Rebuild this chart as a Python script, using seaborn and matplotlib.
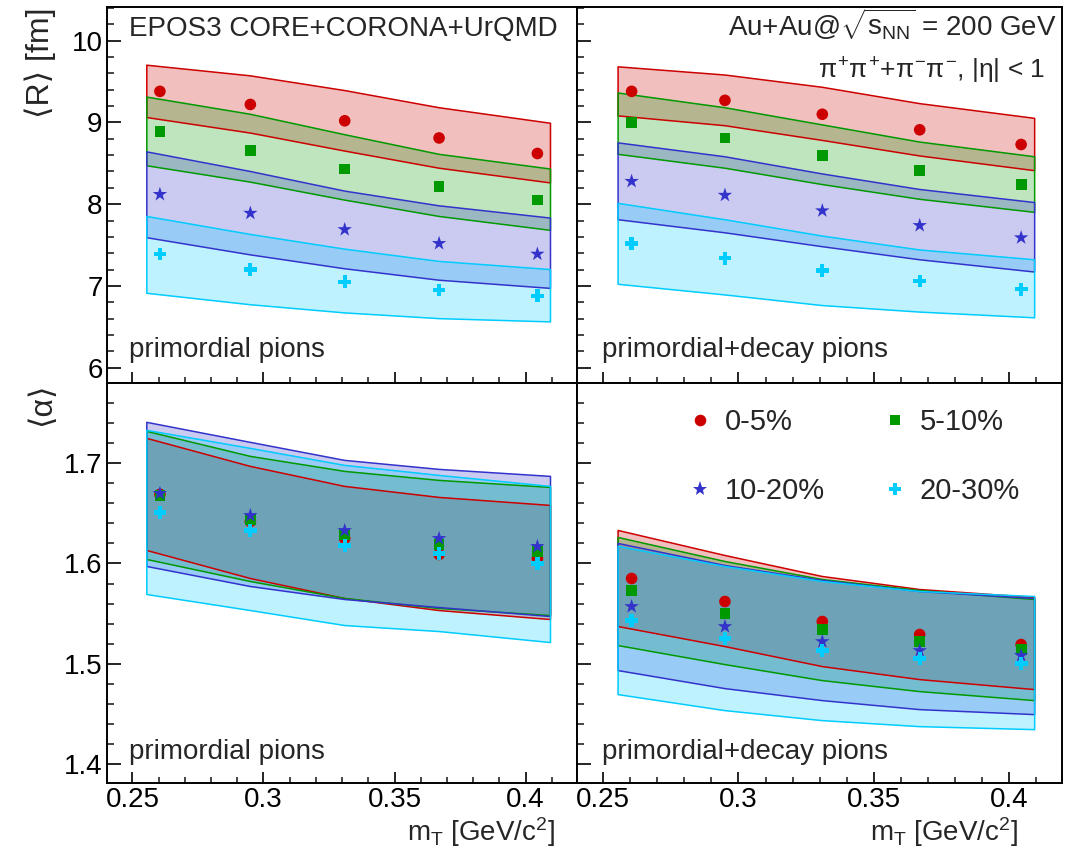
import numpy as np
import pandas as pd
import matplotlib
matplotlib.use("Agg")
import matplotlib.pyplot as plt
import seaborn as sns
from matplotlib.ticker import MultipleLocator, FixedLocator, FixedFormatter
from matplotlib.lines import Line2D

# ---------------- data ----------------
centralities = ["0-5%", "5-10%", "10-20%", "20-30%"]
mt_points = [0.2605, 0.295, 0.331, 0.367, 0.4045]
mt_band = [0.2555, 0.295, 0.331, 0.367, 0.4095]

# <R> primordial pions (markers)
R_prim_0_5 = [9.38, 9.22, 9.02, 8.81, 8.62]
R_prim_5_10 = [8.89, 8.66, 8.43, 8.22, 8.05]
R_prim_10_20 = [8.12, 7.89, 7.69, 7.52, 7.39]
R_prim_20_30 = [7.39, 7.20, 7.05, 6.95, 6.88]
# <R> primordial bands (hi, lo)
R_prim_band_0_5 = ([9.70, 9.57, 9.39, 9.18, 8.99], [9.06, 8.87, 8.65, 8.44, 8.26])
R_prim_band_5_10 = ([9.31, 9.10, 8.85, 8.61, 8.43], [8.47, 8.27, 8.05, 7.85, 7.68])
R_prim_band_10_20 = ([8.64, 8.40, 8.16, 7.98, 7.83], [7.59, 7.38, 7.21, 7.07, 6.97])
R_prim_band_20_30 = ([7.85, 7.63, 7.45, 7.30, 7.20], [6.91, 6.77, 6.67, 6.60, 6.56])

# <R> primordial+decay pions
R_all_0_5 = [9.38, 9.27, 9.10, 8.91, 8.73]
R_all_5_10 = [9.00, 8.81, 8.60, 8.41, 8.24]
R_all_10_20 = [8.28, 8.11, 7.92, 7.74, 7.59]
R_all_20_30 = [7.52, 7.34, 7.19, 7.06, 6.96]
R_all_band_0_5 = ([9.68, 9.58, 9.43, 9.23, 9.05], [9.08, 8.96, 8.78, 8.59, 8.41])
R_all_band_5_10 = ([9.36, 9.18, 8.97, 8.76, 8.58], [8.61, 8.44, 8.24, 8.06, 7.90])
R_all_band_10_20 = ([8.75, 8.58, 8.37, 8.18, 8.02], [7.81, 7.65, 7.48, 7.32, 7.17])
R_all_band_20_30 = ([8.01, 7.81, 7.61, 7.44, 7.32], [7.02, 6.89, 6.76, 6.68, 6.61])

# <alpha> primordial pions
A_prim_0_5 = [1.669, 1.642, 1.625, 1.609, 1.605]
A_prim_5_10 = [1.668, 1.644, 1.629, 1.619, 1.612]
A_prim_10_20 = [1.670, 1.648, 1.633, 1.625, 1.617]
A_prim_20_30 = [1.651, 1.633, 1.618, 1.610, 1.600]
A_prim_band_0_5 = ([1.725, 1.697, 1.677, 1.666, 1.658], [1.613, 1.585, 1.565, 1.553, 1.544])
A_prim_band_5_10 = ([1.732, 1.707, 1.692, 1.683, 1.676], [1.604, 1.582, 1.565, 1.555, 1.548])
A_prim_band_10_20 = ([1.741, 1.721, 1.703, 1.694, 1.687], [1.597, 1.577, 1.564, 1.556, 1.547])
A_prim_band_20_30 = ([1.733, 1.715, 1.698, 1.688, 1.677], [1.569, 1.553, 1.538, 1.532, 1.521])

# <alpha> primordial+decay pions
A_all_0_5 = [1.585, 1.562, 1.542, 1.529, 1.519]
A_all_5_10 = [1.573, 1.550, 1.534, 1.522, 1.514]
A_all_10_20 = [1.557, 1.537, 1.522, 1.513, 1.508]
A_all_20_30 = [1.543, 1.525, 1.513, 1.505, 1.500]
A_all_band_0_5 = ([1.633, 1.608, 1.587, 1.574, 1.566], [1.537, 1.517, 1.497, 1.484, 1.474])
A_all_band_5_10 = ([1.626, 1.602, 1.584, 1.573, 1.564], [1.518, 1.499, 1.483, 1.472, 1.463])
A_all_band_10_20 = ([1.620, 1.598, 1.583, 1.572, 1.565], [1.493, 1.475, 1.463, 1.454, 1.449])
A_all_band_20_30 = ([1.617, 1.597, 1.582, 1.572, 1.567], [1.469, 1.453, 1.443, 1.437, 1.434])

x_ticks = [0.25, 0.30, 0.35, 0.40]
x_ticklabels = ["0.25", "0.3", "0.35", "0.4"]
R_ticks = [6, 7, 8, 9, 10]
R_ticklabels = ["6", "7", "8", "9", "10"]
A_ticks = [1.4, 1.5, 1.6, 1.7]
A_ticklabels = ["1.4", "1.5", "1.6", "1.7"]

# ---------------- style ----------------
sns.set_theme(style="white")
plt.rcParams["font.family"] = ["Liberation Sans", "DejaVu Sans"]
plt.rcParams["mathtext.fontset"] = "custom"
plt.rcParams["mathtext.rm"] = "Liberation Sans"
plt.rcParams["mathtext.it"] = "Liberation Sans"
plt.rcParams["mathtext.bf"] = "Liberation Sans:bold"
plt.rcParams["mathtext.sf"] = "Liberation Sans"

colors = {"0-5%": "#cc0000", "5-10%": "#009900", "10-20%": "#3333cc", "20-30%": "#00ccff"}
markers = {"0-5%": "o", "5-10%": "s", "10-20%": "*", "20-30%": "P"}
sizes = {"0-5%": 70, "5-10%": 60, "10-20%": 120, "20-30%": 85}

W, H = 1066, 852
fig = plt.figure(figsize=(W / 100, H / 100), dpi=100)

xl, xm, xr = 106.7, 576.7, 1061.7
yt, ym, yb = 7.0, 383.3, 783.3


def rect(x0, x1, y0, y1):
    return [x0 / W, 1 - y1 / H, (x1 - x0) / W, (y1 - y0) / H]


ax_tl = fig.add_axes(rect(xl, xm, yt, ym))
ax_tr = fig.add_axes(rect(xm, xr, yt, ym))
ax_bl = fig.add_axes(rect(xl, xm, ym, yb))
ax_br = fig.add_axes(rect(xm, xr, ym, yb))

panels = [
    (ax_tl, [R_prim_0_5, R_prim_5_10, R_prim_10_20, R_prim_20_30],
     [R_prim_band_0_5, R_prim_band_5_10, R_prim_band_10_20, R_prim_band_20_30]),
    (ax_tr, [R_all_0_5, R_all_5_10, R_all_10_20, R_all_20_30],
     [R_all_band_0_5, R_all_band_5_10, R_all_band_10_20, R_all_band_20_30]),
    (ax_bl, [A_prim_0_5, A_prim_5_10, A_prim_10_20, A_prim_20_30],
     [A_prim_band_0_5, A_prim_band_5_10, A_prim_band_10_20, A_prim_band_20_30]),
    (ax_br, [A_all_0_5, A_all_5_10, A_all_10_20, A_all_20_30],
     [A_all_band_0_5, A_all_band_5_10, A_all_band_10_20, A_all_band_20_30]),
]

for ax, vals, bands in panels:
    for cent, (hi, lo) in zip(centralities, bands):
        ax.fill_between(mt_band, lo, hi, facecolor=matplotlib.colors.to_rgba(colors[cent], 0.25),
                        edgecolor="none", linewidth=0, zorder=2)
    for cent, (hi, lo) in zip(centralities, bands):
        ax.fill_between(mt_band, lo, hi, facecolor="none",
                        edgecolor=colors[cent], linewidth=1.1, zorder=3)
    rows = []
    for cent, v in zip(centralities, vals):
        for x, y in zip(mt_points, v):
            rows.append({"mT": x, "val": y, "cent": cent})
    df = pd.DataFrame(rows)
    sns.scatterplot(data=df, x="mT", y="val", hue="cent", style="cent", size="cent",
                    palette=colors, markers=markers, sizes=sizes, hue_order=centralities,
                    style_order=centralities, size_order=centralities,
                    linewidth=0, legend=False, ax=ax, zorder=5)
    ax.set_xlabel("")
    ax.set_ylabel("")
    ax.set_xlim(0.2402, 0.4195)
    ax.xaxis.set_major_locator(FixedLocator(x_ticks))
    ax.xaxis.set_minor_locator(MultipleLocator(0.01))
    for sp in ax.spines.values():
        sp.set_linewidth(1.4)
        sp.set_color("black")
    ax.tick_params(axis="x", which="major", direction="in", length=8, width=1.2,
                   top=False, bottom=True, labelsize=20, pad=3, colors="black")
    ax.tick_params(axis="x", which="minor", direction="in", length=4, width=1.2,
                   top=False, bottom=True)
    ax.tick_params(axis="y", which="major", direction="in", length=10, width=1.2,
                   left=True, right=False, labelsize=20, pad=3, colors="black")
    ax.tick_params(axis="y", which="minor", direction="in", length=5, width=1.2,
                   left=True, right=False)
    ax.set_facecolor("white")

for ax in (ax_tl, ax_tr):
    ax.set_ylim(5.809, 10.412)
    ax.yaxis.set_major_locator(FixedLocator(R_ticks))
    ax.yaxis.set_minor_locator(MultipleLocator(0.2))
    ax.tick_params(axis="x", labelbottom=False)
for ax in (ax_bl, ax_br):
    ax.set_ylim(1.3804, 1.780)
    ax.yaxis.set_major_locator(FixedLocator(A_ticks))
    ax.yaxis.set_minor_locator(MultipleLocator(0.02))
    ax.xaxis.set_major_formatter(FixedFormatter(x_ticklabels))
ax_tl.yaxis.set_major_formatter(FixedFormatter(R_ticklabels))
ax_bl.yaxis.set_major_formatter(FixedFormatter(A_ticklabels))
for ax in (ax_tr, ax_br):
    ax.tick_params(axis="y", labelleft=False)


def ftext(x, y, s, **kw):
    fig.text(x / W, 1 - y / H, s, **kw)


ftext(129.3, 36, "EPOS3 CORE+CORONA+UrQMD", fontsize=20, ha="left", va="baseline")
ftext(1057, 36, r"Au+Au@$\sqrt{s_{\mathrm{NN}}}$ = 200 GeV", fontsize=20, ha="right", va="baseline")
ftext(1045, 78, r"$\pi^{+}\pi^{+}$+$\pi^{-}\pi^{-}$, |$\eta$| < 1", fontsize=19, ha="right", va="baseline")
ftext(129, 357, "primordial pions", fontsize=20, ha="left", va="baseline")
ftext(602, 357, "primordial+decay pions", fontsize=20, ha="left", va="baseline")
ftext(129, 759, "primordial pions", fontsize=20, ha="left", va="baseline")
ftext(602, 759, "primordial+decay pions", fontsize=20, ha="left", va="baseline")

ftext(555, 841, r"m$_{\mathrm{T}}$ [GeV/c$^{2}$]", fontsize=20, ha="right", va="baseline")
ftext(1018, 841, r"m$_{\mathrm{T}}$ [GeV/c$^{2}$]", fontsize=20, ha="right", va="baseline")

ftext(40, 8, "⟨R⟩ [fm]", fontsize=23, rotation=90, ha="center", va="top")
ftext(42, 383, "⟨α⟩", fontsize=23, rotation=90, ha="center", va="top")

# legend: row-wise order (0-5%, 5-10%) / (10-20%, 20-30%)
leg_order = ["0-5%", "10-20%", "5-10%", "20-30%"]
handles = [Line2D([], [], linestyle="none", marker=markers[c], color=colors[c],
                  markersize=np.sqrt(sizes[c]), markeredgewidth=0) for c in leg_order]
ax_br.legend(handles, leg_order, ncol=2, loc="upper left", bbox_to_anchor=(0.224, 0.9385),
             frameon=False, fontsize=21, handlelength=1.0, handletextpad=0.36,
             columnspacing=1.88, labelspacing=1.4, borderpad=0, borderaxespad=0)

fig.savefig("out.png", dpi=100)
